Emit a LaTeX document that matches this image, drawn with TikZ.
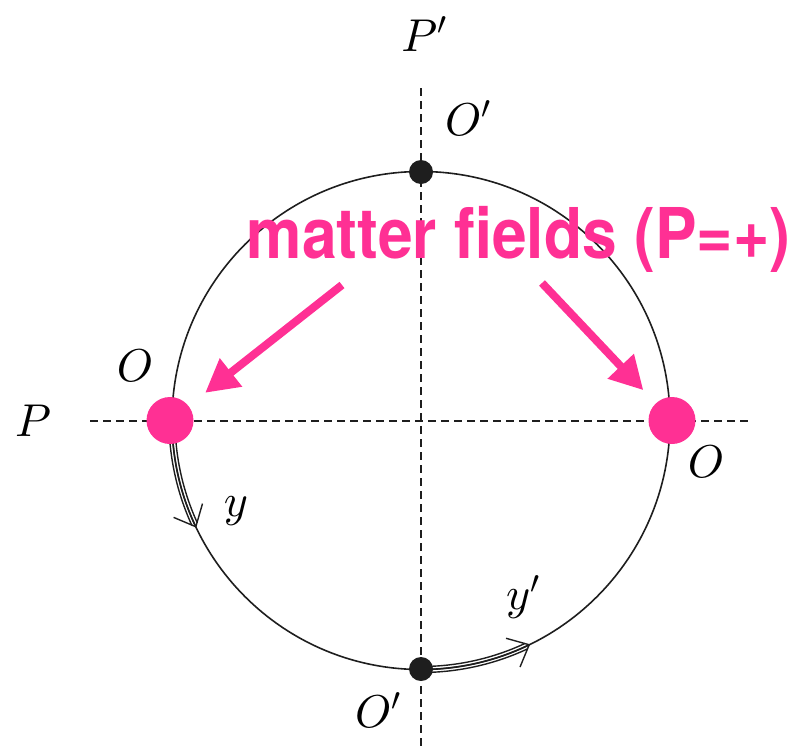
\documentclass[tikz,border=0pt]{standalone}
\usepackage{fontspec}
\setsansfont{TeX Gyre Heros}
\DeclareFontShape{OML}{cmm}{m}{it}{<->cmmi10}{}
\DeclareFontShape{OMS}{cmsy}{m}{n}{<->cmsy10}{}
\usetikzlibrary{arrows.meta, calc}
\definecolor{matterpink}{RGB}{255,48,148}
\definecolor{linegray}{RGB}{30,30,30}

\begin{document}
\begin{tikzpicture}[x=1pt, y=-1pt,
  axis/.style={dash pattern=on 8pt off 5pt, line width=2pt, color=linegray},
  ring/.style={line width=1.6pt, color=linegray},
  fixedpt/.style={circle, fill=matterpink, minimum size=47pt, inner sep=0pt},
  branept/.style={circle, fill=linegray, minimum size=24pt, inner sep=0pt},
  lab/.style={inner sep=0pt, font=\fontsize{46}{50}\selectfont},
  parr/.style={-{Triangle[length=33pt, width=34pt]}, line width=8pt, color=matterpink},
  flow/.style={line width=1.4pt, color=linegray},
  flowtip/.style={flow, -{Straight Barb[length=18pt, width=32pt, line width=1.4pt]}},
]
\useasboundingbox (0,0) rectangle (806,750);

% --- Circle and the two dashed axes ---
\coordinate (c) at (421,420.5);
\draw[ring] (c) circle[radius=249pt];
\draw[axis] (90,420.5) -- (752,420.5);
\draw[axis] (421,88) -- (421,750);

% --- Triple-line flows along the circle ---
\foreach \r in {246,252} {
  \draw[flow] ($(c)+(180:\r pt)$) arc[start angle=180, end angle=204.6, radius=\r pt];
  \draw[flow] ($(c)+(-90:\r pt)$) arc[start angle=-90, end angle=-65, radius=\r pt];
}
\draw[flowtip] ($(c)+(180:249pt)$) arc[start angle=180, end angle=205.5, radius=249pt];
\draw[flowtip] ($(c)+(-90:249pt)$) arc[start angle=-90, end angle=-64, radius=249pt];

% --- Fixed points ---
\node[fixedpt] (ml) at (170,420.5) {};
\node[fixedpt] (mr) at (672,420.5) {};
\node[branept] (ot) at (421,172) {};
\node[branept] (ob) at (421,669) {};

% --- Labels ---
\node[lab] (pp) at (424,34) {$P'$};
\node[lab] (opt) at (468,118) {$O'$};
\node[lab] (ol) at (135,366) {$O$};
\node[lab] (pl) at (33,421) {$P$};
\node[lab] (orr) at (706,462) {$O$};
\node[lab] (opb) at (378,710) {$O'$};
\node[lab] (ly) at (236,511) {$y$};
\node[lab] (lyp) at (523,597) {$y'$};

% --- Matter fields and arrows ---
\node[anchor=base, inner sep=0pt, text=matterpink,
      font=\sffamily\bfseries\fontsize{70}{80}\selectfont]
  (mf) at (518.5,258) {\scalebox{0.89}[1]{matter fields (P=+)}};
\coordinate (lt) at (342,285);
\coordinate (rt) at (542,283);
\draw[parr, shorten >=21pt] (lt) -- (ml);
\draw[parr, shorten >=18pt] (rt) -- (mr);

\end{tikzpicture}
\end{document}
